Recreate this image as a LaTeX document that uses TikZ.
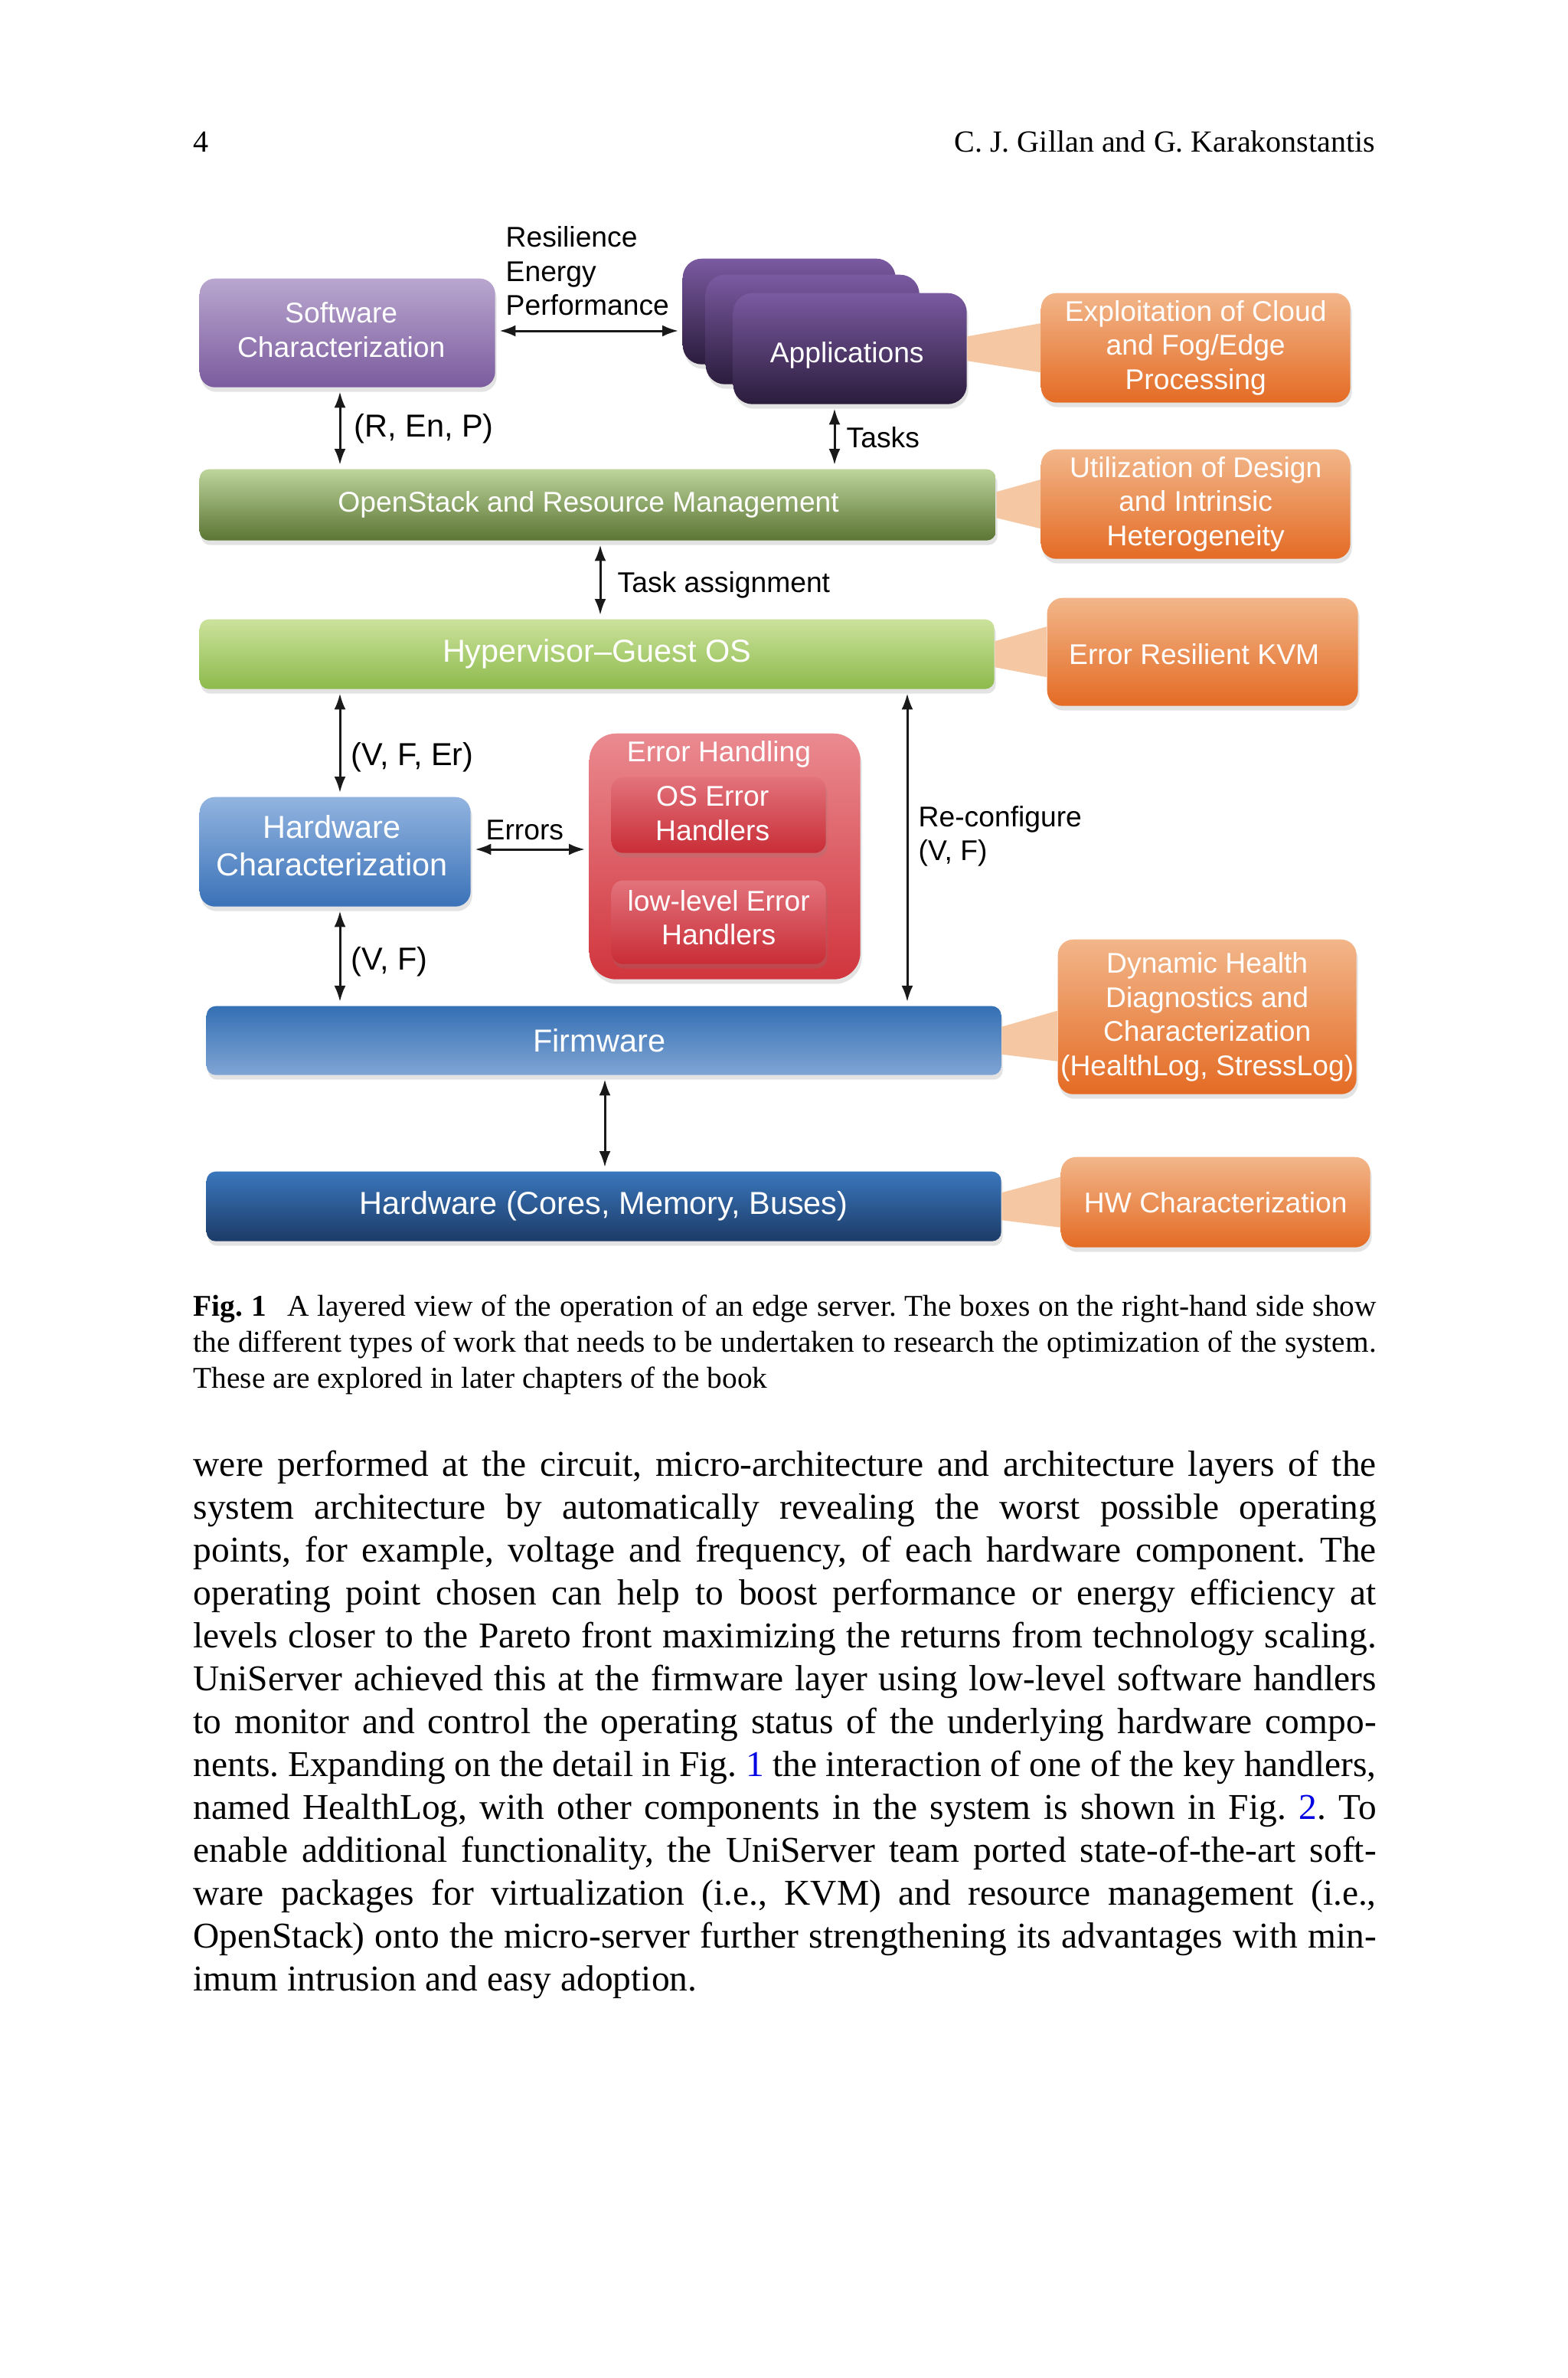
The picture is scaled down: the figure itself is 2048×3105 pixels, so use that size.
\documentclass[tikz,border=0pt]{standalone}
\usepackage{fontspec}
\setmainfont{Liberation Serif}
\newfontfamily\DiagFamily[Ligatures=TeX]{Liberation Sans}
\usetikzlibrary{arrows.meta,shadows}
\newcommand{\DiagSmall}{\DiagFamily\fontsize{10.6}{12.7}\selectfont}
\newcommand{\DiagLarge}{\DiagFamily\fontsize{11.8}{14}\selectfont}
\newcommand{\BodyFont}{\fontsize{13.5}{16}\selectfont}
\newcommand{\CapFont}{\fontsize{11.2}{13.5}\selectfont}
\newcommand{\HeadFont}{\fontsize{11.4}{13.5}\selectfont}
\definecolor{swTop}{HTML}{B9A7CF}\definecolor{swBot}{HTML}{7B5B9E}
\definecolor{apTop}{HTML}{7A5AA1}\definecolor{apBot}{HTML}{2B1C3C}
\definecolor{osTop}{HTML}{BDD49B}\definecolor{osBot}{HTML}{5B7534}
\definecolor{hvTop}{HTML}{CCE29C}\definecolor{hvBot}{HTML}{8CBA4B}
\definecolor{hcTop}{HTML}{92B4E0}\definecolor{hcBot}{HTML}{3A72B8}
\definecolor{ehTop}{HTML}{EA8A90}\definecolor{ehBot}{HTML}{D1353D}
\definecolor{inTop}{HTML}{E2737C}\definecolor{inBot}{HTML}{C92D36}
\definecolor{fwTop}{HTML}{3470B4}\definecolor{fwBot}{HTML}{80A5D4}
\definecolor{hwTop}{HTML}{3A77BD}\definecolor{hwBot}{HTML}{1C3B67}
\definecolor{orTop}{HTML}{F2B68A}\definecolor{orBot}{HTML}{E46B24}
\definecolor{wedgeCol}{HTML}{F5C8A3}
\definecolor{linkBlue}{rgb}{0,0,0.9}
\begin{document}
\frenchspacing
\begin{tikzpicture}[x=0.1mm,y=-0.1mm,
  box/.style={rounded corners=2mm, inner sep=0pt, align=center, text=white, anchor=north west,
    drop shadow={opacity=0.22, shadow xshift=0.2mm, shadow yshift=-0.6mm}},
  bar/.style={box, rounded corners=1.2mm},
  orbox/.style={box, top color=orTop, bottom color=orBot, font=\DiagSmall},
  apbox/.style={box, rounded corners=2.5mm, top color=apTop, bottom color=apBot},
  innerbox/.style={box, rounded corners=1.5mm, top color=inTop, bottom color=inBot, font=\DiagSmall},
  boxtext/.style={inner sep=0pt, align=center, text=white},
  biarrow/.style={<->, >={Latex[length=2.1mm,width=1.5mm]}, line width=0.3mm, draw=black!90,
    shorten <=0.5mm, shorten >=0.5mm},
  lblS/.style={anchor=west, inner sep=0pt, align=left, font=\DiagSmall},
  lblL/.style={anchor=west, inner sep=0pt, align=left, font=\DiagLarge},
  wedge/.style={fill=wedgeCol},
  bodyline/.style={anchor=base west, inner sep=0pt, font=\BodyFont},
  capline/.style={anchor=base west, inner sep=0pt, font=\CapFont}
]
\fill[white] (0,0) rectangle (2048,3105);
\useasboundingbox (0,0) rectangle (2048,3105);

% header
\node[anchor=base west, inner sep=0pt, font=\HeadFont] (pg) at (252,198) {4};
\node[anchor=base east, inner sep=0pt, font=\HeadFont] (auth) at (1797,198) {C. J. Gillan and G. Karakonstantis};

% boxes
\node[box, top color=swTop, bottom color=swBot, minimum width=38.6mm, minimum height=14.2mm] (sw) at (260,363) {};
\node[boxtext, font=\DiagSmall] (swt) at ([xshift=-0.8mm,yshift=0.4mm]sw.center) {Software\\Characterization};
\node[apbox, minimum width=27.8mm, minimum height=13.8mm] (ap1) at (891,337) {};
\node[apbox, minimum width=27.9mm, minimum height=14.3mm] (ap2) at (921,358) {};
\node[apbox, minimum width=30.5mm, minimum height=14.5mm] (ap3) at (957,382) {};
\node[boxtext, font=\DiagSmall] (ap3t) at ([xshift=-0.4mm,yshift=-0.9mm]ap3.center) {Applications};

\node[bar, top color=osTop, bottom color=osBot, minimum width=104mm, minimum height=9.3mm] (os) at (260,612) {};
\node[boxtext, font=\DiagSmall] (ost) at ([xshift=-1.2mm]os.center) {OpenStack and Resource Management};
\node[bar, top color=hvTop, bottom color=hvBot, font=\DiagLarge, minimum width=103.8mm, minimum height=9.1mm] (hv) at (260,808) {Hypervisor–Guest OS};
\node[box, top color=hcTop, bottom color=hcBot, minimum width=35.4mm, minimum height=14.3mm] (hwc) at (260,1040) {};
\node[boxtext, font=\DiagLarge] (hwct) at ([xshift=-0.4mm,yshift=0.8mm]hwc.center) {Hardware\\Characterization};

\node[box, rounded corners=3.5mm, top color=ehTop, bottom color=ehBot, minimum width=35.4mm, minimum height=32.1mm] (eh) at (769,957) {};
\node[boxtext, font=\DiagSmall] (eht) at (939,985) {Error Handling};
\node[innerbox, minimum width=28mm, minimum height=9.9mm] (osh) at (798,1014) {};
\node[boxtext, font=\DiagSmall] (osht) at ([xshift=-0.8mm,yshift=0.2mm]osh.center) {OS Error\\Handlers};
\node[innerbox, minimum width=28mm, minimum height=10.9mm] (llh) at (798,1149) {};
\node[boxtext, font=\DiagSmall] (llht) at ([yshift=0.6mm]llh.center) {low-level Error\\Handlers};

\node[bar, top color=fwTop, bottom color=fwBot, minimum width=103.8mm, minimum height=9.0mm] (fw) at (269,1313) {};
\node[boxtext, font=\DiagLarge] (fwt) at ([xshift=-0.6mm]fw.center) {Firmware};
\node[bar, top color=hwTop, bottom color=hwBot, font=\DiagLarge, minimum width=103.8mm, minimum height=9.1mm] (hw) at (269,1529) {Hardware (Cores, Memory, Buses)};

\node[orbox, minimum width=40.4mm, minimum height=14.3mm] (ob1) at (1359,382) {Exploitation of Cloud\\and Fog/Edge\\Processing};
\node[orbox, minimum width=40.4mm, minimum height=14.3mm] (ob2) at (1359,586) {Utilization of Design\\and Intrinsic\\Heterogeneity};
\node[orbox, minimum width=40.6mm, minimum height=14.1mm] (ob3) at (1367,780) {};
\node[boxtext, font=\DiagSmall] (ob3t) at ([xshift=-1.1mm,yshift=-0.3mm]ob3.center) {Error Resilient KVM};
\node[orbox, minimum width=39.0mm, minimum height=20.2mm] (ob4) at (1381,1226) {Dynamic Health\\Diagnostics and\\Characterization\\(HealthLog, StressLog)};
\node[orbox, minimum width=40.4mm, minimum height=11.8mm] (ob5) at (1385,1510) {HW Characterization};

% callout wedges
\fill[wedge] ([yshift=1.6mm]ap3.east) -- ([yshift=3.2mm]ob1.west) -- ([yshift=-3.2mm]ob1.west) -- ([yshift=-1.6mm]ap3.east) -- cycle;
\fill[wedge] ([yshift=1.7mm]os.east) -- ([yshift=3.2mm]ob2.west) -- ([yshift=-3.2mm]ob2.west) -- ([yshift=-1.7mm]os.east) -- cycle;
\fill[wedge] ([yshift=1.7mm]hv.east) -- ([yshift=3.3mm]ob3.west) -- ([yshift=-3.3mm]ob3.west) -- ([yshift=-1.7mm]hv.east) -- cycle;
\fill[wedge] ([yshift=1.8mm]fw.east) -- ([yshift=0.8mm]ob4.west) -- ([yshift=-5.8mm]ob4.west) -- ([yshift=-1.8mm]fw.east) -- cycle;
\fill[wedge] ([yshift=1.8mm]hw.east) -- ([yshift=3.3mm]ob5.west) -- ([yshift=-3.3mm]ob5.west) -- ([yshift=-1.8mm]hw.east) -- cycle;

% arrow guide coordinates
\coordinate (xL) at (444,0);
\coordinate (xTasks) at (1090,0);
\coordinate (xTA) at (784,0);
\coordinate (xRC) at (1185,0);
\coordinate (xFH) at (790,0);
\coordinate (yRes) at (0,432);
\coordinate (yErr) at (0,1109);

\draw[biarrow] (sw.east |- yRes) -- (ap1.west |- yRes);
\draw[biarrow] (xL |- sw.south) -- (xL |- os.north);
\draw[biarrow] (xTasks |- ap3.south) -- (xTasks |- os.north);
\draw[biarrow] (xTA |- os.south) -- (xTA |- hv.north);
\draw[biarrow] (xL |- hv.south) -- (xL |- hwc.north);
\draw[biarrow] (xRC |- hv.south) -- (xRC |- fw.north);
\draw[biarrow] (hwc.east |- yErr) -- (eh.west |- yErr);
\draw[biarrow] (xL |- hwc.south) -- (xL |- fw.north);
\draw[biarrow] (xFH |- fw.south) -- (xFH |- hw.north);

% labels
\node[lblS] (lres) at (660,354) {Resilience\\Energy\\Performance};
\node[lblL] (lrenp) at (462,560) {(R, En, P)};
\node[lblS] (ltasks) at (1105,571) {Tasks};
\node[lblS] (lta) at (806,764) {Task assignment};
\node[lblL] (lvfer) at (458,989) {(V, F, Er)};
\node[lblS] (lerr) at (634,1084) {Errors};
\node[lblS] (lrc) at (1199,1092) {Re-configure\\(V, F)};
\node[lblL] (lvf) at (458,1256) {(V, F)};

% caption
\node[capline] (c1) at (252,1718) {\makebox[154.5mm][s]{\textbf{Fig. 1}\hskip0.7em A layered view of the operation of an edge server. The boxes on the right-hand side show}};
\node[capline] (c2) at (252,1765) {\makebox[154.5mm][s]{the different types of work that needs to be undertaken to research the optimization of the system.}};
\node[capline] (c3) at (252,1812) {These are explored in later chapters of the book};

% body text
\node[bodyline] (b1) at (252,1927) {\makebox[154.5mm][s]{were performed at the circuit, micro-architecture and architecture layers of the}};
\node[bodyline] (b2) at (252,1983) {\makebox[154.5mm][s]{system architecture by automatically revealing the worst possible operating}};
\node[bodyline] (b3) at (252,2039) {\makebox[154.5mm][s]{points, for example, voltage and frequency, of each hardware component. The}};
\node[bodyline] (b4) at (252,2095) {\makebox[154.5mm][s]{operating point chosen can help to boost performance or energy efficiency at}};
\node[bodyline] (b5) at (252,2151) {\makebox[154.5mm][s]{levels closer to the Pareto front maximizing the returns from technology scaling.}};
\node[bodyline] (b6) at (252,2207) {\makebox[154.5mm][s]{UniServer achieved this at the firmware layer using low-level software handlers}};
\node[bodyline] (b7) at (252,2263) {\makebox[154.5mm][s]{to monitor and control the operating status of the underlying hardware compo-}};
\node[bodyline] (b8) at (252,2319) {\makebox[154.5mm][s]{nents. Expanding on the detail in Fig. \textcolor{linkBlue}{1} the interaction of one of the key handlers,}};
\node[bodyline] (b9) at (252,2375) {\makebox[154.5mm][s]{named HealthLog, with other components in the system is shown in Fig. \textcolor{linkBlue}{2}. To}};
\node[bodyline] (b10) at (252,2431) {\makebox[154.5mm][s]{enable additional functionality, the UniServer team ported state-of-the-art soft-}};
\node[bodyline] (b11) at (252,2487) {\makebox[154.5mm][s]{ware packages for virtualization (i.e., KVM) and resource management (i.e.,}};
\node[bodyline] (b12) at (252,2543) {\makebox[154.5mm][s]{OpenStack) onto the micro-server further strengthening its advantages with min-}};
\node[bodyline] (b13) at (252,2599) {imum intrusion and easy adoption.};
\end{tikzpicture}
\end{document}
